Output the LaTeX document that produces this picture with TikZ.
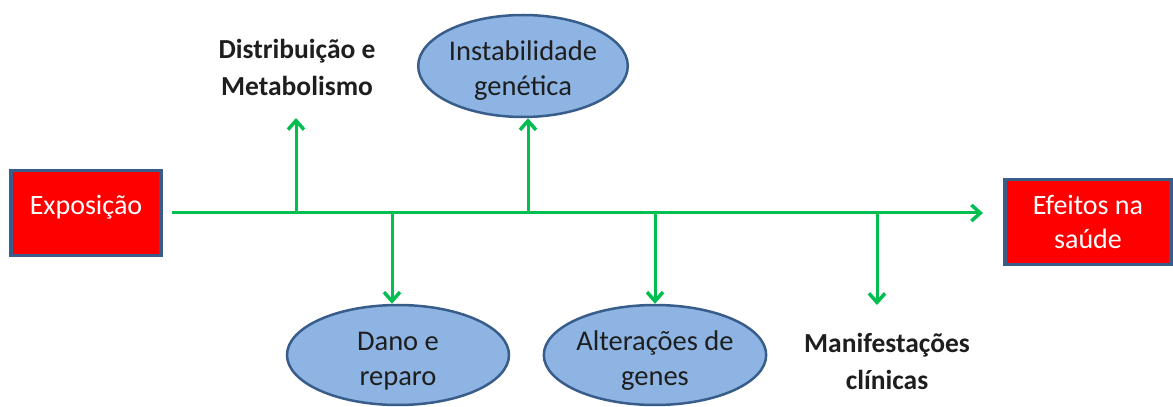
\documentclass[tikz,border=0pt]{standalone}
\usepackage{fontspec}
\setmainfont{Carlito}
\usetikzlibrary{shapes.geometric,arrows.meta}
\definecolor{boxred}{RGB}{255,0,0}
\definecolor{boxborder}{RGB}{56,93,138}
\definecolor{ellfill}{RGB}{141,180,227}
\definecolor{arrowgreen}{RGB}{0,190,80}
\definecolor{darktext}{RGB}{30,30,30}
\newcommand{\shifttext}[2]{\raisebox{#1}[\height][\depth]{\begin{tabular}{@{}c@{}}#2\end{tabular}}}
\tikzset{
  redbox/.style={draw=boxborder, line width=3.5pt, fill=boxred, text=white, align=center,
    inner sep=0pt, font=\fontsize{28}{34}\selectfont},
  ellbox/.style={ellipse, draw=boxborder, line width=2.5pt, fill=ellfill, text=darktext, align=center,
    inner sep=0pt, font=\fontsize{28.5}{35}\selectfont},
  plainlabel/.style={text=darktext, align=center, inner sep=0pt, font=\bfseries\fontsize{27.5}{37}\selectfont},
  flow/.style={draw=arrowgreen, line width=3pt, -{Straight Barb[length=9pt,width=16pt,line width=3.5pt]}},
}
\begin{document}
\begin{tikzpicture}[x=1pt,y=1pt]
\useasboundingbox (0,0) rectangle (1173,407);
\node[redbox, minimum width=150pt, minimum height=85pt] (expo) at (86,194) {\shifttext{5pt}{Exposição}};
\node[redbox, minimum width=166pt, minimum height=85pt] (efeitos) at (1088,185) {Efeitos na\\saúde};
\node[ellbox, minimum width=196pt, minimum height=102pt] (inst) at (523,341) {\shifttext{-5pt}{Instabilidade\\genética}};
\node[ellbox, minimum width=222pt, minimum height=100pt] (dano) at (398,52) {\shifttext{-6pt}{Dano e\\reparo}};
\node[ellbox, minimum width=212pt, minimum height=100pt] (alt) at (655,52) {\shifttext{-6pt}{Alterações de\\genes}};
\node[plainlabel] (dist) at (297,340) {Distribuição e\\Metabolismo};
\node[plainlabel] (manif) at (887,46) {Manifestações\\clínicas};
% main line
\coordinate (lineend) at (983,194);
\draw[flow] ([xshift=9pt]expo.east) -- (lineend);
% branch points
\coordinate (b1) at (296,194);
\coordinate (b2) at (528,194);
\coordinate (b3) at (392,194);
\coordinate (b4) at (655,194);
\coordinate (b5) at (877,194);
\coordinate (t1) at (296,289);
\coordinate (t5) at (877,102);
\draw[flow] (b1) -- (t1);
\draw[flow] (b2) -- (b2 |- inst.south);
\draw[flow] (b3) -- (b3 |- dano.north);
\draw[flow] (b4) -- (b4 |- alt.north);
\draw[flow] (b5) -- (t5);
\end{tikzpicture}
\end{document}
